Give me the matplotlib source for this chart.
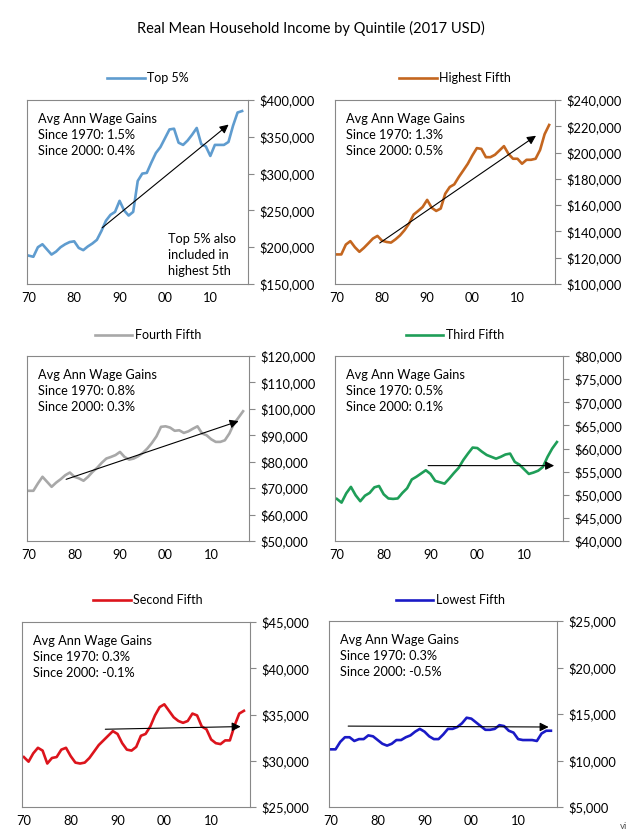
import matplotlib
matplotlib.use("Agg")
import matplotlib.pyplot as plt
from matplotlib.ticker import FuncFormatter

plt.rcParams['font.family'] = ['Lato', 'DejaVu Sans']

years = list(range(1970, 2018))

top5 = [188.5, 187, 200, 204, 197, 190, 194, 200, 204, 207,
        208, 199, 196, 201, 205, 210, 222, 236, 244, 248,
        263, 250, 243, 248, 290, 300, 301, 315, 328, 336,
        348, 360, 361, 342, 339, 345, 353, 362, 340, 337,
        324, 339, 339, 339, 343, 365, 383, 385]
highest = [122.5, 122.5, 130, 132.6, 128, 124.5, 127.5, 131, 134.6, 136.6,
           133, 132, 131.5, 134, 137, 141, 146, 152.8, 155.6, 158.6,
           164, 158, 155.6, 157.4, 168.7, 173.8, 175.8, 181.4, 186.4, 191.5,
           197.8, 203.4, 202.8, 196.5, 196.5, 198.3, 201.6, 204.9, 199, 195.3,
           195.3, 191.5, 194.5, 194.5, 195.3, 202, 214, 221]
fourth = [69, 69, 71.8, 74.3, 72.4, 70.5, 72.1, 73.4, 74.9, 75.9,
          74.3, 73.7, 72.8, 74.3, 76.2, 77.7, 79.6, 81.2, 81.8, 82.5,
          83.7, 81.8, 80.8, 81.2, 82.1, 83.3, 85, 87.1, 89.6, 93.2,
          93.4, 92.9, 91.7, 91.9, 90.9, 91.5, 92.5, 93.4, 90.7, 90,
          88.5, 87.5, 87.5, 88.1, 90.7, 94.4, 96.7, 99.1]
third = [49.1, 48.3, 50.3, 51.7, 49.9, 48.6, 49.8, 50.4, 51.6, 51.9,
         50.1, 49.2, 49.1, 49.2, 50.4, 51.4, 53.3, 53.9, 54.6, 55.3,
         54.5, 53, 52.7, 52.4, 53.5, 54.7, 55.8, 57.5, 58.9, 60.2,
         60.1, 59.3, 58.6, 58.2, 57.8, 58.2, 58.7, 58.9, 57.1, 56.5,
         55.5, 54.5, 54.8, 55.2, 56, 58.2, 60, 61.4]
second = [30.4, 29.9, 30.8, 31.4, 31.1, 29.7, 30.3, 30.4, 31.2, 31.4,
          30.5, 29.8, 29.7, 29.8, 30.3, 31, 31.7, 32.2, 32.7, 33.2,
          32.9, 31.9, 31.2, 31.1, 31.5, 32.7, 32.9, 33.7, 34.9, 35.8,
          36.1, 35.4, 34.7, 34.3, 34.1, 34.3, 35.1, 34.9, 33.7, 33.4,
          32.3, 31.9, 31.8, 32.2, 32.2, 33.8, 35.1, 35.4]
lowest = [11.2, 11.2, 12, 12.5, 12.5, 12.1, 12.3, 12.3, 12.7, 12.6,
          12.2, 11.8, 11.6, 11.8, 12.2, 12.2, 12.5, 12.7, 13.1, 13.4,
          13.1, 12.6, 12.3, 12.3, 12.8, 13.4, 13.4, 13.6, 14, 14.6,
          14.5, 14.1, 13.7, 13.3, 13.3, 13.4, 13.8, 13.7, 13.2, 13,
          12.3, 12.2, 12.2, 12.2, 12.1, 12.9, 13.2, 13.2]

names = ["Top 5%", "Highest Fifth", "Fourth Fifth",
         "Third Fifth", "Second Fifth", "Lowest Fifth"]
series = [top5, highest, fourth, third, second, lowest]
gains_1970 = ["1.5%", "1.3%", "0.8%", "0.5%", "0.3%", "0.3%"]
gains_2000 = ["0.4%", "0.5%", "0.3%", "0.1%", "-0.1%", "-0.5%"]
# trend arrows: (start year, start value, end year, end value), in $000
arrows = [(1985.7, 224, 2014.5, 369),
          (1979, 130, 2014.6, 214),
          (1977.6, 73, 2016.6, 95.7),
          (1988.9, 56.3, 2017.0, 56.3),
          (1986.8, 33.4, 2016.9, 33.7),
          (1973.1, 13.7, 2017.1, 13.6)]
y_ranges = [(150, 400, 50), (100, 240, 20), (50, 120, 10),
            (40, 80, 5), (25, 45, 5), (5, 25, 5)]
tick_years = [1970, 1980, 1990, 2000, 2010]
tick_labels = ["70", "80", "90", "00", "10"]

colors = ['#5f9ccf', '#c4661f', '#a8a8a8', '#1f9e58', '#dc141c', '#1a1ac6']

W, H = 638, 838
fig = plt.figure(figsize=(W / 100, H / 100), dpi=100)
fig.text(0.487, 1 - 28 / H, "Real Mean Household Income by Quintile (2017 USD)",
         ha='center', va='center', fontsize=10.5)

# axes boxes in pixels: left, top, right, bottom
boxes = [(27, 100, 248, 284), (335, 100, 555, 284),
         (27, 356, 249, 541), (335, 356, 563, 541),
         (22, 622, 250, 807), (329, 621, 557, 807)]
legend_y = [78, 78, 335, 335, 600, 600]
legend_x = [148, 455, 148, 455, 148, 450]

dollar = FuncFormatter(lambda v, p: "${:,.0f}".format(v * 1000))

for i in range(6):
    l, t, r, b = boxes[i]
    ax = fig.add_axes([l / W, 1 - b / H, (r - l) / W, (b - t) / H])
    ax.plot(years, series[i], color=colors[i], lw=1.9, label=names[i])
    lo, hi, step = y_ranges[i]
    ax.set_ylim(lo, hi)
    ax.set_yticks(list(range(lo, hi + 1, step)))
    ax.yaxis.set_major_formatter(dollar)
    ax.yaxis.tick_right()
    ax.set_xlim(1969.6, 2018.3)
    ax.set_xticks(tick_years)
    ax.set_xticklabels(tick_labels)
    ax.tick_params(axis='x', length=0, pad=6, labelsize=9.3)
    ax.tick_params(axis='y', length=4, width=0.8, color='#888888', pad=4, labelsize=9.3)
    for s in ax.spines.values():
        s.set_color('#888888')
        s.set_linewidth(0.8)
    x0, y0, x1, y1 = arrows[i]
    ax.annotate('', xy=(x1, y1), xytext=(x0, y0),
                arrowprops=dict(arrowstyle='-|>', color='black', lw=0.8,
                                mutation_scale=13))
    ax.text(0.05, 0.93, "Avg Ann Wage Gains\nSince 1970: %s\nSince 2000: %s"
            % (gains_1970[i], gains_2000[i]),
            transform=ax.transAxes, ha='left', va='top', fontsize=9.2,
            linespacing=1.4)
    lx = (legend_x[i] - l) / (r - l)
    ly = (b - legend_y[i]) / (b - t)
    ax.legend(loc='center', bbox_to_anchor=(lx, ly), frameon=False,
              fontsize=9, handlelength=3.0, handletextpad=0.2,
              borderaxespad=0)
    if i == 0:
        ax.text(0.64, 0.04, "Top 5% also\nincluded in\nhighest 5th",
                transform=ax.transAxes, ha='left', va='bottom',
                fontsize=9.2, linespacing=1.4)

fig.text(620 / W, 1 - 826 / H, "vi", fontsize=7, color='#555555',
         ha='left', va='center')

fig.savefig("out.png", dpi=100)
